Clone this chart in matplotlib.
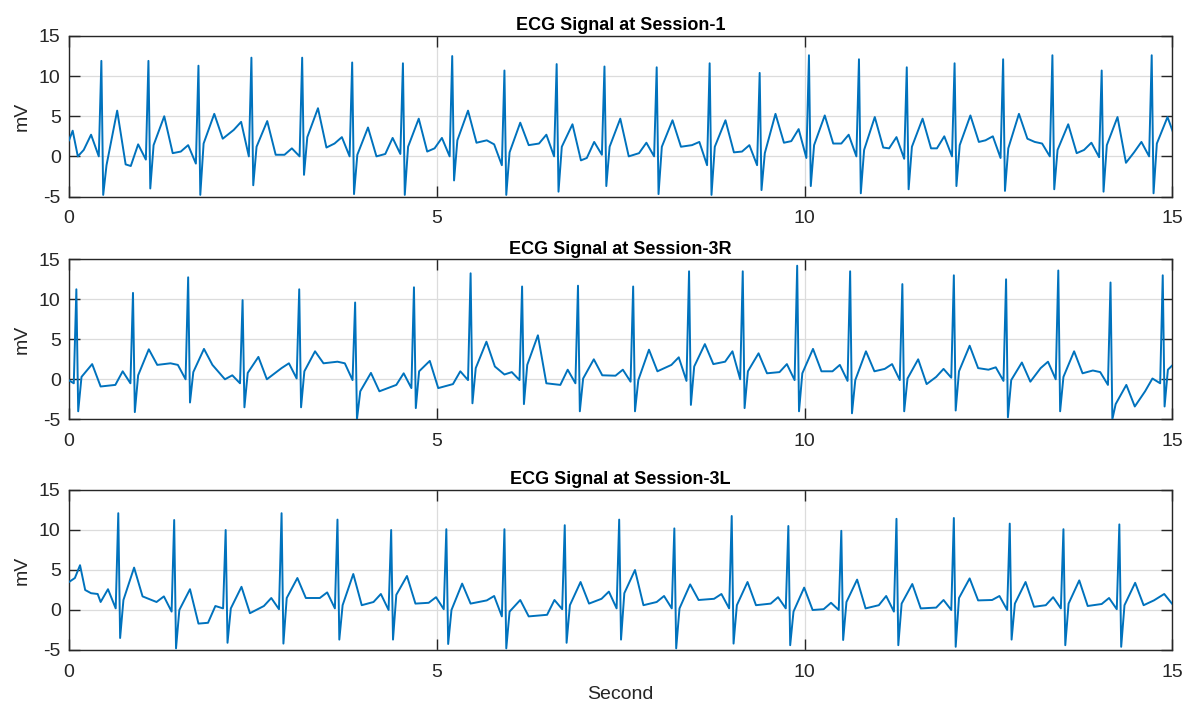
import matplotlib
matplotlib.use("Agg")
import matplotlib.pyplot as plt
import numpy as np

plt.rcParams['font.family'] = ['Liberation Sans', 'DejaVu Sans']
plt.rcParams['axes.unicode_minus'] = False

# ---------------- data ----------------
titles = ["ECG Signal at Session-1", "ECG Signal at Session-3R", "ECG Signal at Session-3L"]
x_ticks = [0, 5, 10, 15]
y_ticks = [-5, 0, 5, 10, 15]

# Session-1: per-beat landmark values (mV) and R-peak times (s)
s1_r_time = [0.44, 1.08, 1.76, 2.48, 3.17, 3.85, 4.54, 5.21, 5.92, 6.63, 7.28,
             7.99, 8.71, 9.39, 10.06, 10.74, 11.39, 12.04, 12.70, 13.37, 14.04, 14.72]
s1_iso = [0.8, -1.2, 0.6, 3.3, 0.2, 1.6, 0.3, 1.0, 2.0, 1.6, -0.2,
          0.4, 1.4, 0.6, 1.9, 1.6, 1.0, 1.0, 2.0, 1.8, 0.8, 0.5]
s1_p = [2.7, 1.5, 1.4, 4.3, 1.0, 2.4, 2.3, 2.3, 1.5, 2.7, 1.8,
        1.7, 1.8, 1.4, 3.4, 2.7, 2.4, 2.5, 2.5, 1.6, 1.7, 1.8]
s1_q = [0.0, -0.4, -0.9, 0.0, 0.0, 0.0, 0.3, 0.0, -1.1, 0.0, 0.2,
        0.0, -1.1, -1.1, -0.2, 0.0, -0.3, 0.0, -0.2, 0.0, -0.1, 0.0]
s1_r = [11.9, 11.9, 11.3, 12.3, 12.3, 11.7, 11.6, 12.5, 10.7, 11.5, 11.2,
        11.1, 11.6, 10.4, 12.6, 12.1, 11.1, 11.6, 12.1, 12.6, 10.7, 12.6]
s1_s = [-4.8, -4.0, -4.8, -3.6, -2.3, -4.7, -4.8, -3.0, -4.8, -4.4, -3.7,
        -4.7, -4.8, -4.2, -3.7, -4.6, -4.1, -3.7, -4.3, -4.1, -4.4, -4.6]
s1_j = [-1.1, 1.4, 1.6, 1.2, 2.4, 0.2, 1.2, 2.0, 0.5, 1.2, 1.2,
        1.2, 1.2, 0.4, 1.4, 0.8, 1.2, 1.4, 1.0, 0.8, 1.4, 1.6]
s1_t = [5.7, 5.0, 5.3, 4.4, 6.0, 3.6, 4.7, 5.7, 4.2, 4.0, 4.7,
        4.5, 4.5, 5.3, 5.1, 4.9, 4.7, 5.1, 5.3, 4.0, 4.9, 4.9]
s1_post = [-1.0, 0.4, 2.2, 0.2, 1.1, 0.0, 0.6, 1.7, 1.4, -0.5, 0.0,
           1.2, 0.5, 1.7, 1.6, 1.1, 1.0, 1.8, 2.2, 0.4, -0.8, 2.0]
s1_lead_t = [0.0, 0.05, 0.12]
s1_lead_v = [2.0, 3.2, 0.0]
s1_trail_t = []
s1_trail_v = []

# Session-3R
s2_r_time = [0.10, 0.87, 1.62, 2.36, 3.13, 3.89, 4.69, 5.46, 6.16, 6.92, 7.67,
             8.43, 9.16, 9.90, 10.62, 11.33, 12.03, 12.74, 13.45, 14.16, 14.87]
s2_iso = [0.1, -0.7, 2.0, 0.0, 1.4, 2.2, -0.7, -0.6, 0.6, -0.7, 0.45,
          1.8, 2.2, 0.9, 1.0, 1.3, 0.3, 1.2, 1.4, 1.1, -1.5]
s2_p = [0.1, 1.0, 1.8, 0.5, 2.0, 2.0, 0.75, 1.0, 0.9, 1.2, 1.2,
        2.75, 3.5, 1.9, 1.8, 1.9, 1.3, 1.5, 2.2, 0.9, 0.1]
s2_q = [-0.5, -0.5, 0.0, -0.5, 0.1, -0.1, -1.1, -0.1, -0.1, -0.5, -0.3,
        -0.2, 0.0, -0.1, -0.2, -0.1, 0.2, -0.2, 0.0, -0.7, -0.5]
s2_r = [11.25, 10.8, 12.75, 9.9, 11.25, 9.6, 11.5, 13.25, 11.6, 11.7, 11.6,
        13.5, 13.5, 14.2, 13.5, 11.9, 13.0, 12.5, 13.6, 12.1, 13.0]
s2_s = [-4.0, -4.1, -2.9, -3.5, -3.5, -5.0, -3.6, -3.0, -3.1, -4.0, -4.0,
        -3.2, -3.6, -4.0, -4.25, -4.0, -3.9, -4.75, -4.0, -5.0, -3.4]
s2_j = [0.3, 0.5, 0.9, 0.8, 1.0, -1.5, 1.0, 1.4, 1.8, 0.1, -0.1,
        1.6, 1.0, 0.75, -0.1, 0.1, 1.0, -0.1, 0.3, -3.1, 1.2]
s2_t = [1.9, 3.75, 3.8, 2.8, 3.5, 0.8, 2.3, 4.7, 5.5, 2.5, 3.7,
        4.4, 3.25, 3.8, 3.5, 2.5, 4.2, 2.1, 3.5, -0.7, 2.5]
s2_post = [-0.9, 1.8, 1.8, 0.0, 2.0, -1.5, -1.1, 1.6, -0.5, 0.5, 1.0,
           1.9, 0.75, 1.0, 1.0, -0.6, 1.4, -0.3, 0.75, -3.4, 2.0]
s2_lead_t = []
s2_lead_v = []
s2_trail_t = []
s2_trail_v = []

# Session-3L
s3_r_time = [0.67, 1.43, 2.13, 2.89, 3.65, 4.38, 5.13, 5.92, 6.74, 7.48,
             8.23, 9.01, 9.78, 10.50, 11.25, 12.03, 12.79, 13.52, 14.28]
s3_iso = [1.0, 1.0, -1.6, 0.5, 1.5, 1.0, 0.9, 1.2, -0.6, 1.4,
          1.0, 1.4, 0.8, 0.1, 0.6, 0.3, 1.25, 0.6, 0.75]
s3_p = [2.6, 1.7, 0.5, 1.5, 2.2, 2.0, 1.6, 1.75, 1.25, 2.3,
        1.75, 2.0, 1.6, 0.9, 1.75, 1.25, 1.75, 1.6, 1.5]
s3_q = [0.2, -0.2, 0.2, 0.1, 0.2, 0.0, 0.1, -0.8, 0.1, 0.2,
        0.2, 0.2, 0.2, 0.0, -0.2, 0.0, 0.0, 0.2, 0.1]
s3_r = [12.1, 11.25, 10.0, 12.1, 11.3, 10.0, 10.1, 10.1, 10.6, 11.3,
        10.2, 11.75, 10.5, 9.9, 11.4, 11.5, 10.8, 10.1, 10.7]
s3_s = [-3.5, -4.8, -4.1, -4.2, -3.7, -3.7, -4.25, -4.8, -4.1, -3.7,
        -4.8, -4.2, -4.4, -3.75, -4.4, -4.6, -3.7, -4.4, -4.6]
s3_j = [1.25, 0.0, 0.2, 1.5, 0.6, 1.9, 0.0, -0.2, 0.6, 2.1,
        0.2, 0.6, -0.2, 1.0, 0.8, 1.5, 0.8, 0.8, 0.6]
s3_t = [5.3, 2.6, 2.9, 4.0, 4.5, 4.25, 3.3, 1.25, 3.5, 5.0,
        3.2, 3.5, 2.8, 3.8, 3.25, 3.95, 3.5, 3.7, 3.4]
s3_post = [1.7, -1.7, -0.4, 1.5, 0.6, 0.8, 0.8, -0.8, 0.8, 0.6,
           1.25, 0.6, 0.0, 0.2, 0.2, 1.2, 0.4, 0.5, 0.6]
s3_lead_t = [0.0, 0.08, 0.15, 0.22, 0.30, 0.39]
s3_lead_v = [3.5, 4.0, 5.6, 2.5, 2.1, 2.0]
s3_trail_t = [14.75, 14.89, 15.0]
s3_trail_v = [1.2, 2.0, 0.75]

# beat landmark timing relative to the R peak (s): iso, P, Q, R, S, J, T, T-end
BEAT_OFFSETS = [-0.24, -0.14, -0.035, 0.0, 0.025, 0.07, 0.215, 0.33]


def build_trace(r_time, iso, p, q, r, s, j, t, post, lead_t, lead_v, trail_t, trail_v):
    xs = list(lead_t)
    ys = list(lead_v)
    for k, rt in enumerate(r_time):
        vals = [iso[k], p[k], q[k], r[k], s[k], j[k], t[k], post[k]]
        for off, v in zip(BEAT_OFFSETS, vals):
            xs.append(rt + off)
            ys.append(v)
    xs += list(trail_t)
    ys += list(trail_v)
    xs = np.array(xs)
    ys = np.array(ys)
    order = np.argsort(xs, kind="stable")
    return xs[order], ys[order]


traces = [
    build_trace(s1_r_time, s1_iso, s1_p, s1_q, s1_r, s1_s, s1_j, s1_t, s1_post,
                s1_lead_t, s1_lead_v, s1_trail_t, s1_trail_v),
    build_trace(s2_r_time, s2_iso, s2_p, s2_q, s2_r, s2_s, s2_j, s2_t, s2_post,
                s2_lead_t, s2_lead_v, s2_trail_t, s2_trail_v),
    build_trace(s3_r_time, s3_iso, s3_p, s3_q, s3_r, s3_s, s3_j, s3_t, s3_post,
                s3_lead_t, s3_lead_v, s3_trail_t, s3_trail_v),
]

# ---------------- figure ----------------
W, H = 1192, 711
fig = plt.figure(figsize=(W / 100, H / 100), dpi=100)
fig.patch.set_facecolor("white")

left_px, right_px = 69, 1172.3
panels_px = [(36, 196.5), (259.3, 419.3), (490, 650)]
axis_col = "#262626"

axes = []
for i, (top, bot) in enumerate(panels_px):
    ax = fig.add_axes([left_px / W, 1 - bot / H, (right_px - left_px) / W, (bot - top) / H])
    x, y = traces[i]
    ax.plot(x, y, color="#0072BD", lw=1.4, solid_joinstyle="round", zorder=3)
    ax.set_xlim(0, 15)
    ax.set_ylim(-5, 15)
    ax.set_xticks(x_ticks)
    ax.set_yticks(y_ticks)
    ax.grid(True, color="#dcdcdc", lw=0.9, zorder=0)
    ax.set_axisbelow(True)
    for sp in ax.spines.values():
        sp.set_color(axis_col)
        sp.set_linewidth(1.0)
    ax.tick_params(axis="both", direction="in", length=8, width=1.0, colors=axis_col,
                   top=True, right=True, labelsize=14, labelcolor="#262626")
    ax.tick_params(axis="x", pad=10)
    ax.tick_params(axis="y", pad=6)
    ax.set_title(titles[i], fontsize=13, fontweight="bold", pad=4, color="black")
    ax.set_ylabel("mV", fontsize=14, color="#262626", labelpad=6)
    axes.append(ax)

axes[-1].set_xlabel("Second", fontsize=14, color="#262626", labelpad=4)

fig.savefig("out.png", dpi=100, facecolor="white")
